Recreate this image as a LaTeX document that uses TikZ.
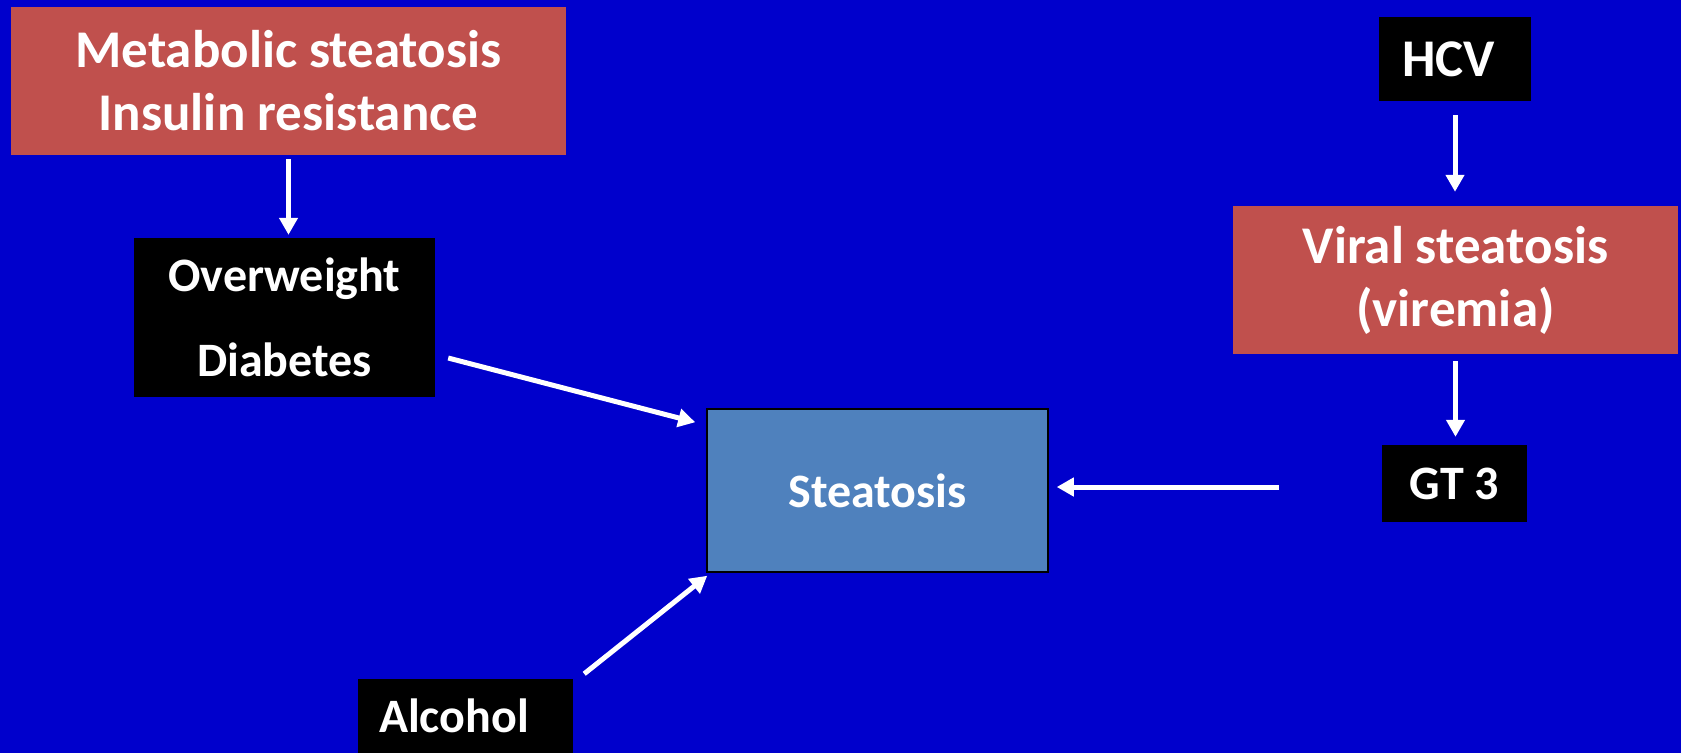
\documentclass[tikz,border=0pt]{standalone}
\usepackage{fontspec}
\setmainfont{Carlito}
\usetikzlibrary{arrows.meta}
\definecolor{slideblue}{RGB}{0,0,204}
\definecolor{boxred}{RGB}{192,80,77}
\definecolor{boxblue}{RGB}{79,129,189}

\begin{document}
\begin{tikzpicture}[x=1pt, y=-1pt,
  redbox/.style={fill=boxred, text=white, font=\bfseries\fontsize{53}{63}\selectfont, align=center, inner sep=0pt},
  blackbox/.style={fill=black, text=white, font=\bfseries\fontsize{48}{56}\selectfont, align=center, inner sep=0pt},
  arr/.style={draw=white, line width=5pt, -{Triangle[width=18pt,length=17pt]}}]
  % Slide background
  \useasboundingbox (0,0) rectangle (1681,753);
  \fill[slideblue] (0,0) rectangle (1681,753);

  % Left branch
  \node[redbox, minimum width=555pt, minimum height=148pt] (meta) at (288.5,81) {Metabolic steatosis\\Insulin resistance};
  \node[blackbox, minimum width=301pt, minimum height=159pt, font=\bfseries\fontsize{48}{85}\selectfont] (over) at (284.5,317.5) {Overweight\\Diabetes};
  \node[blackbox, minimum width=215pt, minimum height=74pt, inner xsep=21pt, text width=173pt, align=left] (alco) at (465.5,716) {Alcohol};

  % Right branch
  \node[blackbox, minimum width=152pt, minimum height=84pt, inner xsep=23pt, text width=106pt, align=left, font=\bfseries\fontsize{53}{63}\selectfont] (hcv) at (1455,59) {HCV};
  \node[redbox, minimum width=445pt, minimum height=148pt] (viral) at (1455.5,280) {Viral steatosis\\(viremia)};
  \node[blackbox, minimum width=145pt, minimum height=77pt] (gt) at (1454.5,483.5) {GT 3};

  % Centre
  \node[fill=boxblue, draw=black, line width=1.5pt, text=white, font=\bfseries\fontsize{48}{56}\selectfont, minimum width=341pt, minimum height=163pt] (steat) at (877.5,490.5) {Steatosis};

  % Arrows
  \draw[arr, shorten <=4pt, shorten >=3pt] (meta.south) -- (meta.south |- over.north);
  \draw[arr, shorten <=14pt, shorten >=14pt] (hcv.south) -- (hcv.south |- viral.north);
  \draw[arr, shorten <=7pt, shorten >=8pt] (viral.south) -- (viral.south |- gt.north);
  \draw[arr] ([shift={(-103,3.5)}]gt.west) -- ([shift={(8,-3.5)}]steat.east);
  \draw[arr] ([shift={(13,40.5)}]over.east) -- ([shift={(-11,14)}]steat.north west);
  \draw[arr] ([shift={(11,-5)}]alco.north east) -- ([shift={(1,3)}]steat.south west);
\end{tikzpicture}
\end{document}
